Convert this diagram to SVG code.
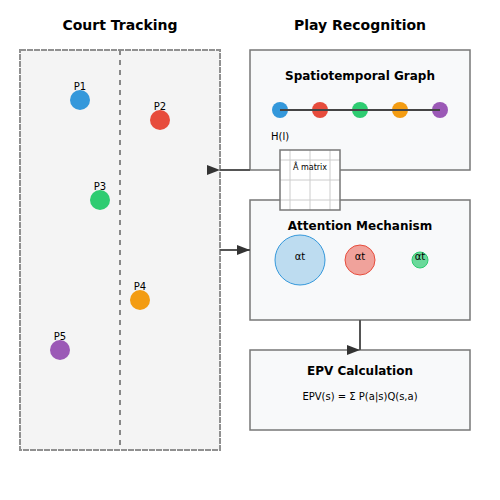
<svg xmlns="http://www.w3.org/2000/svg" width="500" height="500" viewBox="0 0 500 500">
<defs>
<marker id="arr" markerUnits="userSpaceOnUse" markerWidth="14" markerHeight="10" refX="13" refY="5" orient="0">
<path d="M0,0 L13,5 L0,10 z" fill="#333"/>
</marker>
<style>
text{font-family:"DejaVu Sans","Liberation Sans",sans-serif;fill:#000}
.h{font-size:14px;font-weight:bold;text-anchor:middle}
.t{font-size:12px;font-weight:bold;text-anchor:middle}
.s{font-size:10px;text-anchor:middle}
.box{fill:#f8f9fa;stroke:#777;stroke-width:1.5}
.conn{stroke:#555;stroke-width:2;fill:none;marker-end:url(#arr)}
.grid{stroke:#ccc;stroke-width:1}
</style>
</defs>
<rect width="500" height="500" fill="#fff"/>
<text class="h" x="120" y="30">Court Tracking</text>
<text class="h" x="360" y="30">Play Recognition</text>
<g id="court">
<rect x="20" y="50" width="200" height="400" fill="#f4f4f4" stroke="#909090" stroke-width="2" stroke-dasharray="6 1"/>
<line x1="120" y1="50" x2="120" y2="450" stroke="#888" stroke-width="2" stroke-dasharray="5 5"/>
</g>
<g id="p1"><circle cx="80" cy="100" r="10" fill="#3498db"/><text class="s" x="80" y="90">P1</text></g>
<g id="p2"><circle cx="160" cy="120" r="10" fill="#e74c3c"/><text class="s" x="160" y="110">P2</text></g>
<g id="p3"><circle cx="100" cy="200" r="10" fill="#2ecc71"/><text class="s" x="100" y="190">P3</text></g>
<g id="p4"><circle cx="140" cy="300" r="10" fill="#f39c12"/><text class="s" x="140" y="290">P4</text></g>
<g id="p5"><circle cx="60" cy="350" r="10" fill="#9b59b6"/><text class="s" x="60" y="340">P5</text></g>
<g id="graph">
<rect class="box" x="250" y="50" width="220" height="120"/>
<text class="t" x="360" y="80">Spatiotemporal Graph</text>
<circle cx="280" cy="110" r="8" fill="#3498db"/>
<circle cx="320" cy="110" r="8" fill="#e74c3c"/>
<circle cx="360" cy="110" r="8" fill="#2ecc71"/>
<circle cx="400" cy="110" r="8" fill="#f39c12"/>
<circle cx="440" cy="110" r="8" fill="#9b59b6"/>
<line x1="280" y1="110" x2="440" y2="110" stroke="#444" stroke-width="2"/>
<text x="271" y="140" style="font-size:10px">H(l)</text>
</g>
<g id="attention">
<rect class="box" x="250" y="200" width="220" height="120"/>
<text class="t" x="360" y="230">Attention Mechanism</text>
<circle cx="300" cy="260" r="25" fill="#3498db" fill-opacity="0.3" stroke="#3498db"/>
<circle cx="360" cy="260" r="15" fill="#e74c3c" fill-opacity="0.5" stroke="#e74c3c"/>
<circle cx="420" cy="260" r="8" fill="#2ecc71" fill-opacity="0.7" stroke="#2ecc71"/>
<text class="s" x="300" y="260">αt</text>
<text class="s" x="360" y="260">αt</text>
<text class="s" x="420" y="260">αt</text>
</g>
<g id="matrix">
<rect x="280" y="150" width="60" height="60" fill="#fff"/>
<line class="grid" x1="290" y1="150" x2="290" y2="210"/>
<line class="grid" x1="310" y1="150" x2="310" y2="210"/>
<line class="grid" x1="330" y1="150" x2="330" y2="210"/>
<line class="grid" x1="280" y1="160" x2="340" y2="160"/>
<line class="grid" x1="280" y1="180" x2="340" y2="180"/>
<line class="grid" x1="280" y1="200" x2="340" y2="200"/>
<rect x="280" y="150" width="60" height="60" fill="none" stroke="#777" stroke-width="1.5"/>
<text x="310" y="170" style="font-size:8px;text-anchor:middle">Â matrix</text>
</g>
<g id="epv">
<rect class="box" x="250" y="350" width="220" height="80"/>
<text class="t" x="360" y="375">EPV Calculation</text>
<text class="s" x="360" y="400">EPV(s) = Σ P(a|s)Q(s,a)</text>
</g>
<g id="connectors">
<path class="conn" d="M250,170 L220,170"/>
<path class="conn" d="M220,250 L250,250"/>
<path class="conn" d="M360,320 L360,350"/>
</g>
</svg>
